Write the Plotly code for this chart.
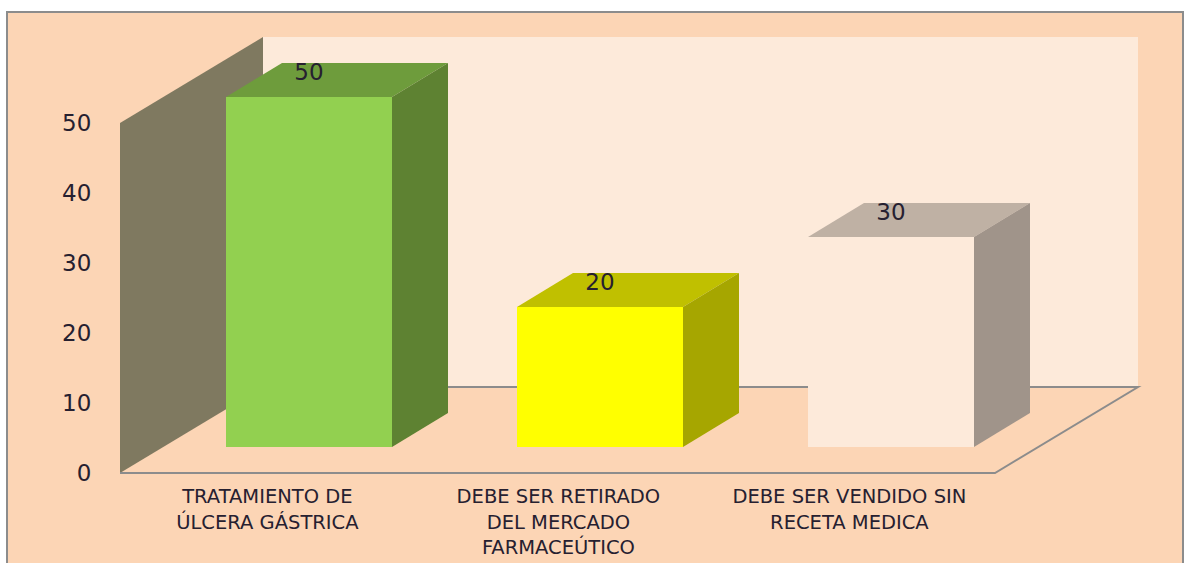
"""
Gráfico de barras con efecto 3D dibujado sobre ejes cartesianos
"""

import plotly.graph_objects as go

# datos
categories = ['TRATAMIENTO DE<br>ÚLCERA GÁSTRICA',
              'DEBE SER RETIRADO<br>DEL MERCADO<br>FARMACEÚTICO',
              'DEBE SER VENDIDO SIN<br>RECETA MEDICA']
values = [50, 20, 30]
y_ticks = [0, 10, 20, 30, 40, 50]

# colores
C_FRAME = '#FCD5B5'
C_BORDER = '#8C8C8C'
C_BACK = '#FDEADA'
C_SIDE_WALL = '#7F7960'
C_TEXT = '#262030'
C_FRONT = ['#92D050', '#FFFF00', '#FDEADA']
C_TOP = ['#6E9C3C', '#C0C000', '#BFB1A4']
C_RIGHT = ['#5E8232', '#A6A600', '#A0948A']

# escala de los ejes
W, H = 1184, 563
PX_X = 291.0  # px por categoría
PX_Y = 7.0  # px por unidad
X0_PX = 309.0
Y0_PX = 473.0

# geometría de la caja 3D, en unidades de los ejes
BAR_W = 166 / PX_X
BAR_LIFT = 26 / PX_Y
BAR_DX = 56 / PX_X
BAR_DY = 34 / PX_Y
WALL_DX = 143 / PX_X
WALL_DY = 86 / PX_Y
FLOOR_L = (120 - X0_PX) / PX_X
FLOOR_R = (995 - X0_PX) / PX_X
WALL_TOP = max(y_ticks)
LABEL_SHIFT = -0.143
VALUE_LABEL_UP = 3.2


def path(points):
    return 'M ' + ' L '.join(f'{x},{y}' for x, y in points) + ' Z'


fig = go.Figure()

# barras (cara frontal)
fig.add_trace(go.Bar(
    x=list(range(len(values))), y=values, base=BAR_LIFT, width=BAR_W,
    marker=dict(color=C_FRONT, line_width=0), showlegend=False, hoverinfo='skip',
))

# caras superior y lateral de cada barra
for i, v in enumerate(values):
    left, right = i - BAR_W / 2, i + BAR_W / 2
    bottom, top = BAR_LIFT, BAR_LIFT + v
    fig.add_trace(go.Scatter(
        x=[left, right, right + BAR_DX, left + BAR_DX],
        y=[top, top, top + BAR_DY, top + BAR_DY],
        mode='lines', fill='toself', fillcolor=C_TOP[i], line_width=0,
        showlegend=False, hoverinfo='skip',
    ))
    fig.add_trace(go.Scatter(
        x=[right, right + BAR_DX, right + BAR_DX, right],
        y=[bottom, bottom + BAR_DY, top + BAR_DY, top],
        mode='lines', fill='toself', fillcolor=C_RIGHT[i], line_width=0,
        showlegend=False, hoverinfo='skip',
    ))

# etiquetas de valor
fig.add_trace(go.Scatter(
    x=list(range(len(values))),
    y=[v + BAR_LIFT + VALUE_LABEL_UP for v in values],
    mode='text', text=[str(v) for v in values], textposition='middle center',
    textfont=dict(family='DejaVu Sans', size=23, color=C_TEXT),
    showlegend=False, hoverinfo='skip',
))

# marco y paredes
shapes = [
    dict(type='rect', xref='paper', yref='paper', x0=7 / W, x1=1183 / W, y0=-0.02, y1=1 - 12 / H,
         fillcolor=C_FRAME, line=dict(color=C_BORDER, width=2), layer='below'),
    dict(type='path', layer='below', fillcolor=C_BACK, line_width=0,
         path=path([(FLOOR_L + WALL_DX, WALL_DY), (FLOOR_R + WALL_DX, WALL_DY),
                    (FLOOR_R + WALL_DX, WALL_TOP + WALL_DY), (FLOOR_L + WALL_DX, WALL_TOP + WALL_DY)])),
    dict(type='path', layer='below', fillcolor=C_SIDE_WALL, line_width=0,
         path=path([(FLOOR_L, 0), (FLOOR_L + WALL_DX, WALL_DY),
                    (FLOOR_L + WALL_DX, WALL_TOP + WALL_DY), (FLOOR_L, WALL_TOP)])),
    dict(type='path', layer='below', line=dict(color=C_BORDER, width=2),
         path=f'M {FLOOR_L},0 L {FLOOR_R},0 L {FLOOR_R + WALL_DX},{WALL_DY} L {FLOOR_L + WALL_DX},{WALL_DY}'),
]

fig.update_layout(
    width=W, height=H,
    autosize=False,
    margin=dict(l=0, r=0, t=0, b=0),
    paper_bgcolor='white',
    plot_bgcolor='rgba(0,0,0,0)',
    shapes=shapes,
    font=dict(family='DejaVu Sans', color=C_TEXT),
    xaxis=dict(
        range=[-X0_PX / PX_X, (W - X0_PX) / PX_X],
        domain=[0, 1], anchor='free', position=(H - Y0_PX) / H,
        tickmode='array', tickvals=[i + LABEL_SHIFT for i in range(len(categories))],
        ticktext=categories, tickangle=0,
        tickfont=dict(size=19.5), ticks='outside', ticklen=6, tickcolor='rgba(0,0,0,0)',
        showgrid=False, zeroline=False, showline=False,
    ),
    yaxis=dict(
        range=[(Y0_PX - H) / PX_Y, Y0_PX / PX_Y],
        domain=[0, 1], anchor='free', position=(120 - 0) / W,
        tickmode='array', tickvals=y_ticks,
        tickfont=dict(size=23), ticks='outside', ticklen=24, tickcolor='rgba(0,0,0,0)',
        showgrid=False, zeroline=False, showline=False,
    ),
)

# sin el margen por defecto de la página
fig.write_html('out.html', config=dict(displayModeBar=False),
               post_script="document.body.style.margin='0';document.body.style.overflow='hidden';")
